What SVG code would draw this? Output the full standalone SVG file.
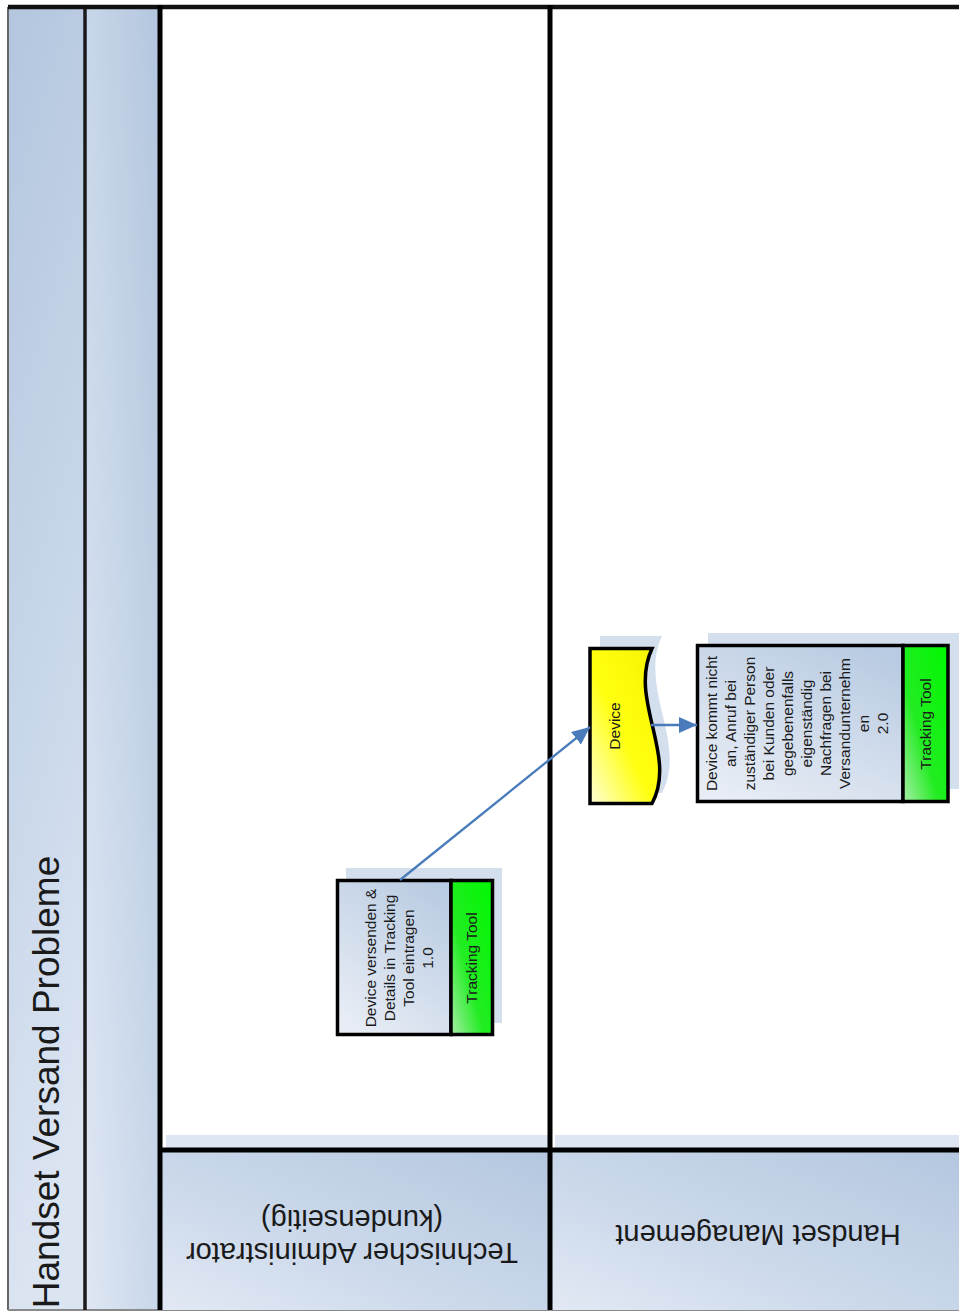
<svg xmlns="http://www.w3.org/2000/svg" width="959" height="1314" viewBox="0 0 959 1314">
<style>
text{font-family:"Liberation Sans",Arial,sans-serif;fill:#1a1a1a}
.nt{font-size:15.5px}
.hd{font-size:29px}
.tt{font-size:37px}
.lane{stroke:#000;stroke-width:5;fill:none}
.box{stroke:#000;stroke-width:3.5}
.shadow{fill:#d4dfee}
.conn{stroke:#4a7cbc;stroke-width:2.3;fill:none}
</style>
<defs>
<linearGradient id="gTitle" x1="0" y1="0" x2="0.2" y2="1">
<stop offset="0" stop-color="#b3c6de"/><stop offset="0.6" stop-color="#c9d7ea"/><stop offset="1" stop-color="#dbe4f1"/>
</linearGradient>
<linearGradient id="gCol2" x1="1" y1="0" x2="0" y2="1">
<stop offset="0" stop-color="#b3c6de"/><stop offset="0.55" stop-color="#cad8ea"/><stop offset="1" stop-color="#dfe7f3"/>
</linearGradient>
<linearGradient id="gHead" x1="1" y1="0" x2="0" y2="1">
<stop offset="0" stop-color="#b4c7df"/><stop offset="0.6" stop-color="#ccd9eb"/><stop offset="1" stop-color="#e2e9f4"/>
</linearGradient>
<linearGradient id="gBody" x1="0.8" y1="0" x2="0.2" y2="1">
<stop offset="0" stop-color="#b9cbe2"/><stop offset="1" stop-color="#e8edf5"/>
</linearGradient>
<linearGradient id="gGreen" x1="1" y1="0" x2="0" y2="1">
<stop offset="0" stop-color="#00f800"/><stop offset="0.6" stop-color="#22ec22"/><stop offset="1" stop-color="#a8eea8"/>
</linearGradient>
<linearGradient id="gYellow" x1="1" y1="0" x2="0" y2="1">
<stop offset="0" stop-color="#f4f400"/><stop offset="0.55" stop-color="#ffff10"/><stop offset="1" stop-color="#ffffd8"/>
</linearGradient>
<marker id="arr" markerUnits="userSpaceOnUse" viewBox="0 0 18 16" refX="18" refY="8" markerWidth="18" markerHeight="16" orient="auto">
<path d="M0,0 L18,8 L0,16 z" fill="#4a7cbc"/>
</marker>
</defs>

<rect x="0" y="0" width="959" height="1314" fill="#ffffff"/>

<g id="pool">
<rect x="8" y="7" width="77" height="1303" fill="url(#gTitle)"/>
<rect x="85" y="7" width="75" height="1303" fill="url(#gCol2)"/>
<rect x="160" y="7" width="799" height="1143" fill="#ffffff"/>
<rect x="166" y="1135" width="384" height="15" fill="#dde6f2"/>
<rect x="555" y="1135" width="404" height="15" fill="#dde6f2"/>
<line x1="8" y1="7" x2="8" y2="1310" stroke="#666" stroke-width="2"/>
<line x1="8" y1="1310" x2="959" y2="1310" stroke="#8a8a8a" stroke-width="2"/>
<line x1="85" y1="7" x2="85" y2="1310" stroke="#1a1a1a" stroke-width="3.5"/>
<text class="tt" transform="translate(59,1082) rotate(-90)" text-anchor="middle">Handset Versand Probleme</text>
</g>

<g id="lane-technischer-administrator">
<rect x="160" y="1150" width="390" height="160" fill="url(#gHead)"/>
<text class="hd" transform="translate(352,1226.5) rotate(180)" text-anchor="middle"><tspan x="0" y="-16.5">Technischer Administrator</tspan><tspan x="0" y="16.5">(kundenseitig)</tspan></text>
</g>

<g id="lane-handset-management">
<rect x="550" y="1150" width="409" height="160" fill="url(#gHead)"/>
<text class="hd" transform="translate(758,1236) rotate(180)" text-anchor="middle" y="11">Handset Management</text>
</g>

<g id="lane-lines">
<line x1="8" y1="7" x2="959" y2="7" stroke="#111" stroke-width="4.5"/>
<line class="lane" x1="160" y1="5" x2="160" y2="1310"/>
<line class="lane" x1="550" y1="5" x2="550" y2="1310"/>
<line class="lane" x1="158" y1="1150" x2="959" y2="1150"/>
</g>

<g id="node-1">
<rect class="shadow" x="346" y="868" width="156" height="155"/>
<rect class="box" x="337.5" y="880.5" width="113.5" height="154" fill="url(#gBody)"/>
<rect class="box" x="451" y="880.5" width="41.5" height="154" fill="url(#gGreen)"/>
<text class="nt" transform="translate(376,958) rotate(-90)" text-anchor="middle"><tspan x="0" y="0">Device versenden &amp;</tspan><tspan x="0" dy="19">Details in Tracking</tspan><tspan x="0" dy="19">Tool eintragen</tspan><tspan x="0" dy="19">1.0</tspan></text>
<text class="nt" transform="translate(477,958) rotate(-90)" text-anchor="middle">Tracking Tool</text>
</g>

<g id="node-device">
<path class="shadow" d="M600,636 L662,636 C638,688 688,743 662,793 L600,793 z"/>
<path class="box" d="M590,648.5 L652,648.5 C628,700 678,755 652,803.5 L590,803.5 z" fill="url(#gYellow)"/>
<text class="nt" transform="translate(620,726) rotate(-90)" text-anchor="middle">Device</text>
</g>

<g id="node-2">
<rect class="shadow" x="708" y="633" width="251" height="156"/>
<rect class="box" x="697.5" y="645.5" width="205.5" height="156" fill="url(#gBody)"/>
<rect class="box" x="903" y="645.5" width="45" height="156" fill="url(#gGreen)"/>
<text class="nt" transform="translate(717,723.5) rotate(-90)" text-anchor="middle"><tspan x="0" y="0">Device kommt nicht</tspan><tspan x="0" dy="19">an, Anruf bei</tspan><tspan x="0" dy="19">zuständiger Person</tspan><tspan x="0" dy="19">bei Kunden oder</tspan><tspan x="0" dy="19">gegebenenfalls</tspan><tspan x="0" dy="19">eigenständig</tspan><tspan x="0" dy="19">Nachfragen bei</tspan><tspan x="0" dy="19">Versandunternehm</tspan><tspan x="0" dy="19">en</tspan><tspan x="0" dy="19">2.0</tspan></text>
<text class="nt" transform="translate(931,724) rotate(-90)" text-anchor="middle">Tracking Tool</text>
</g>

<g id="connectors">
<line class="conn" x1="400" y1="880" x2="590" y2="727" marker-end="url(#arr)"/>
<line class="conn" x1="651" y1="725" x2="697" y2="725" marker-end="url(#arr)"/>
</g>
</svg>
